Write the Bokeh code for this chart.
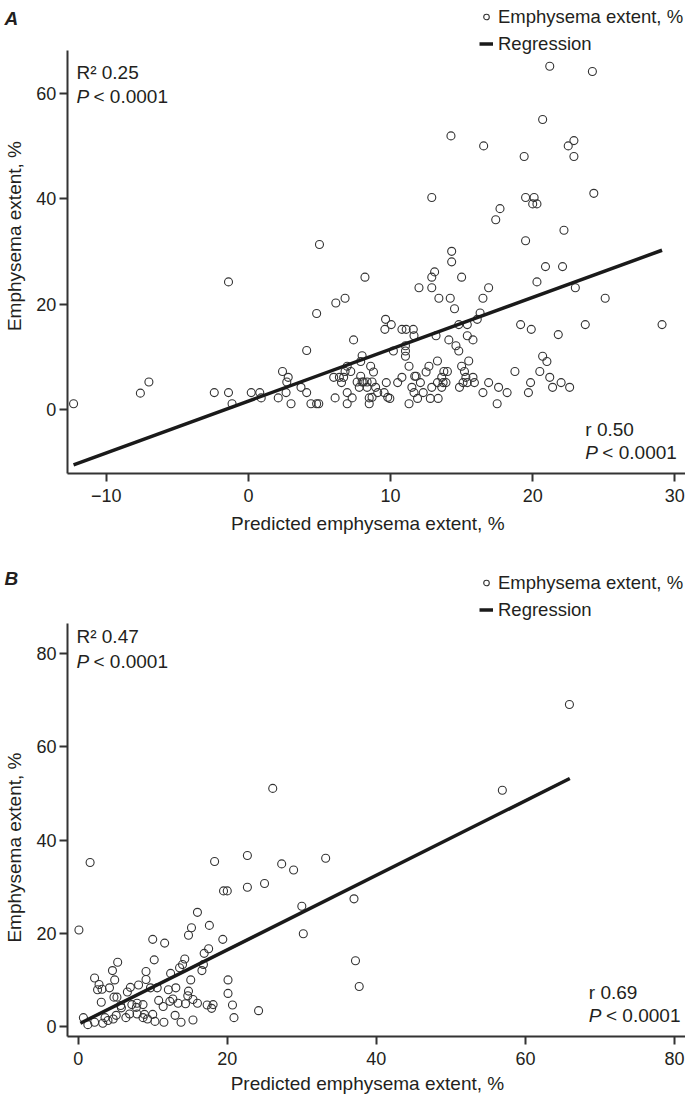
from math import pi
from bokeh.plotting import figure
from bokeh.layouts import column
from bokeh.models import Label, Legend, LegendItem, FixedTicker, Range1d
from bokeh.embed import file_html
from bokeh.resources import INLINE

FONT = "Liberation Sans"
INK = "#231f20"

# ---------------- Panel A data ----------------
a_predicted = [21.2, 24.2, 20.7, 14.25, 16.55, 22.9, 22.5, 22.9, 19.4, 12.9, 19.5, 20.1, 20.0, 20.3,
               24.3, 17.7, 17.4, 22.2, 19.5, 14.3, 14.3, 13.1, 12.9, 8.2, 15.0, 20.9, 22.1, 20.3,
               23.0, 12.0, 12.9, 16.9, 13.4, 14.2, 16.5, 25.1, -1.4, 5.0, 6.15, 6.8, 4.8, 7.4,
               4.1, 8.0, 2.4, 2.8, 2.7, 3.7, 4.1, 2.65, 2.1, 3.0, 4.4, 4.8, 4.95, -12.3, -7.6,
               -7.0, -2.4, -1.4, -1.15, 0.2, 0.8, 0.9, 6.1, 6.95, 6.95, 7.3, 6.0, 6.4, 6.7, 6.55,
               6.8, 6.95, 7.2, 7.9, 7.65, 8.0, 8.35, 7.8, 8.35, 8.5, 8.5, 8.6, 8.8, 9.65, 9.6,
               8.1, 8.7, 8.95, 9.1, 9.55, 8.7, 9.8, 7.9, 14.5, 16.3, 10.05, 10.8, 11.1, 11.6,
               11.65, 13.2, 14.8, 15.4, 16.1, 14.1, 15.4, 15.8, 14.6, 14.8, 11.05, 11.05, 11.05,
               10.2, 19.15, 19.9, 21.8, 20.7, 21.0, 13.3, 11.3, 12.7, 12.5, 15.5, 15.0, 10.8,
               11.7, 11.8, 10.5, 11.5, 12.1, 11.65, 12.3, 11.9, 9.95, 11.3, 12.8, 13.35, 12.9,
               13.3, 13.7, 13.6, 13.75, 14.0, 13.9, 13.6, 14.85, 15.1, 15.4, 15.9, 15.3, 15.8,
               15.2, 16.9, 16.5, 17.6, 18.2, 17.5, 18.75, 19.85, 19.7, 20.5, 21.2, 21.4, 22.0,
               23.7, 29.1, 22.6, 9.7]
a_extent = [65.1, 64.1, 55.0, 51.9, 50.0, 51.0, 50.0, 48.0, 48.0, 40.2, 40.2, 40.2, 39.0, 39.0,
            41.0, 38.1, 36.0, 34.0, 32.0, 30.0, 28.0, 26.1, 25.1, 25.1, 25.1, 27.1, 27.1, 24.2,
            23.1, 23.1, 23.1, 23.1, 21.1, 21.1, 21.1, 21.1, 24.2, 31.3, 20.2, 21.1, 18.2, 13.2,
            11.2, 10.2, 7.2, 6.1, 5.2, 4.2, 3.2, 3.2, 2.2, 1.1, 1.1, 1.1, 1.1, 1.1, 3.1,
            5.2, 3.2, 3.2, 1.1, 3.2, 3.2, 2.2, 2.2, 1.1, 3.2, 2.2, 6.1, 6.1, 6.1, 5.1,
            7.2, 8.2, 7.2, 9.1, 5.2, 5.2, 5.2, 4.2, 4.2, 2.2, 1.1, 8.2, 7.1, 17.1, 15.2,
            5.2, 5.2, 4.2, 3.2, 3.2, 2.3, 2.3, 6.3, 19.1, 18.3, 16.1, 15.2, 15.2, 15.2,
            14.0, 14.0, 16.1, 16.1, 17.1, 13.2, 14.0, 13.2, 12.1, 11.1, 12.1, 11.1, 10.1,
            11.1, 16.1, 15.2, 14.2, 10.1, 9.1, 9.2, 8.2, 8.2, 7.1, 9.2, 8.2, 6.1,
            6.3, 6.3, 5.1, 4.2, 5.1, 3.2, 3.2, 2.1, 2.1, 1.1, 2.1, 2.1, 4.2,
            5.1, 5.1, 6.1, 7.2, 7.2, 5.1, 4.2, 4.2, 5.1, 5.1, 5.1, 6.1, 6.1,
            7.2, 5.1, 3.2, 4.2, 3.2, 1.1, 7.2, 5.1, 3.2, 7.2, 6.1, 4.2, 5.1,
            16.1, 16.1, 4.2, 5.1]

# ---------------- Panel B data ----------------
b_predicted = [65.9, 56.9, 26.1, 22.7, 27.3, 28.9, 33.2, 22.7, 25.0, 30.0, 37.0, 30.2, 37.2, 37.7,
               24.2, 1.6, 18.3, 19.5, 20.0, 0.1, 16.0, 15.2, 14.8, 17.6, 19.4, 10.0, 11.6, 10.2,
               5.3, 4.6, 9.1, 9.1, 4.9, 2.2, 2.8, 2.6, 3.2, 4.2, 3.1, 4.8, 5.2, 6.6, 7.0, 8.1,
               9.7, 10.6, 12.4, 13.6, 14.0, 14.3, 16.9, 17.5, 16.8, 16.6, 15.1, 12.1, 13.1, 14.8,
               14.7, 15.4, 16.0, 20.1, 20.1, 20.7, 20.9, 17.3, 17.9, 18.1, 14.4, 13.4, 12.7, 12.3,
               11.4, 10.8, 7.9, 8.7, 7.8, 7.2, 5.8, 6.9, 7.9, 8.9, 10.0, 5.1, 6.4, 8.7, 9.3,
               10.3, 11.5, 13.0, 13.8, 15.4, 0.7, 1.3, 2.2, 3.3, 4.0, 3.6, 4.7, 5.7]
b_extent = [69.1, 50.7, 51.1, 36.7, 34.9, 33.6, 36.1, 29.9, 30.7, 25.8, 27.4, 19.9, 14.1, 8.6,
            3.4, 35.2, 35.4, 29.1, 29.1, 20.7, 24.5, 21.2, 19.6, 21.7, 18.7, 18.7, 17.9, 14.3,
            13.8, 12.0, 11.8, 10.1, 10.0, 10.4, 9.0, 7.9, 8.0, 8.3, 5.2, 6.3, 6.3, 7.4, 8.4, 8.9,
            8.3, 8.3, 11.4, 12.6, 13.3, 14.5, 15.7, 16.7, 13.3, 12.0, 10.0, 7.9, 8.3, 7.6,
            6.6, 5.8, 5.0, 10.0, 7.1, 4.6, 1.9, 4.6, 3.9, 4.7, 4.9, 5.0, 5.9, 5.4,
            4.3, 5.6, 5.0, 4.7, 4.1, 4.7, 4.0, 2.7, 2.7, 2.6, 2.6, 2.4, 1.9, 1.9, 1.6,
            1.1, 0.9, 2.4, 0.9, 1.4, 1.9, 0.4, 0.9, 0.7, 1.3, 1.9, 1.6, 4.5]

a_xticks = [-10, 0, 10, 20, 30]
a_yticks = [0, 20, 40, 60]
b_xticks = [0, 20, 40, 60, 80]
b_yticks = [0, 20, 40, 60, 80]

# regression fits: intercept, slope, x extent of the fitted line
a_fit = {"intercept": 1.6, "slope": 0.983, "x": [-12.3, 29.1]}
b_fit = {"intercept": 0.46, "slope": 0.80, "x": [0.3, 65.95]}

a_text = {"letter": "A", "r2": "R\u00b2 0.25", "r": "r 0.50", "p": "<  0.0001"}
b_text = {"letter": "B", "r2": "R\u00b2 0.47", "r": "r 0.69", "p": "<  0.0001"}

series_label = "Emphysema extent, %"
fit_label = "Regression"
x_title = "Predicted emphysema extent, %"
y_title = "Emphysema extent, %"


def lab(p, x, y, text, size="19px", style="normal", align="left", baseline="middle", angle=0.0):
    p.add_layout(Label(x=x, y=y, text=text, text_font=FONT, text_font_size=size,
                       text_font_style=style, text_color=INK, text_align=align,
                       text_baseline=baseline, angle=angle))


def panel(xs, ys, fit, txt, view_x, view_y, axis_x, axis_y, xticks, yticks, pos, legend_loc):
    # the frame fills the whole canvas; axes sit at fixed data locations inside it
    p = figure(width=685, height=548, output_backend="svg", toolbar_location=None,
               x_range=Range1d(*view_x), y_range=Range1d(*view_y),
               min_border_left=0, min_border_right=0, min_border_top=0, min_border_bottom=0)
    p.grid.visible = False
    p.outline_line_color = None
    p.background_fill_color = "white"
    p.border_fill_color = "white"
    for ax, ticks in ((p.xaxis[0], xticks), (p.yaxis[0], yticks)):
        ax.ticker = FixedTicker(ticks=ticks)
        ax.minor_tick_line_color = None
        ax.major_tick_in = 0
        ax.major_tick_out = 8
        ax.axis_line_width = 2
        ax.major_tick_line_width = 2
        ax.axis_line_color = "#333333"
        ax.major_tick_line_color = "#333333"
        ax.major_label_text_font = FONT
        ax.major_label_text_font_size = "18px"
        ax.major_label_text_color = INK
        ax.major_label_overrides = {t: ("\u2212" + str(-t) if t < 0 else str(t)) for t in ticks}
    p.xaxis.fixed_location = axis_y[0]
    p.xaxis.bounds = (axis_x[0], axis_x[1])
    p.yaxis.fixed_location = axis_x[0]
    p.yaxis.bounds = (axis_y[0], axis_y[1])
    p.xaxis.major_label_standoff = 8
    p.yaxis.major_label_standoff = 3

    pts = p.scatter(xs, ys, marker="circle", size=8, fill_color=None,
                    line_color="#333333", line_width=1.1)
    fx = fit["x"]
    fy = [fit["intercept"] + fit["slope"] * v for v in fx]
    ln = p.line(fx, fy, line_color="#1a1a1a", line_width=3.5)

    legend = Legend(items=[LegendItem(label=series_label, renderers=[pts]),
                           LegendItem(label=fit_label, renderers=[ln])],
                    location=legend_loc, orientation="vertical",
                    border_line_color=None, background_fill_alpha=0,
                    label_text_font=FONT, label_text_font_size="18.5px", label_text_color=INK,
                    glyph_width=14, glyph_height=21, label_height=21, spacing=5,
                    label_standoff=5, padding=0, margin=0)
    p.add_layout(legend, "center")

    lab(p, pos["letter"][0], pos["letter"][1], txt["letter"], size="19px", style="bold italic")
    lab(p, pos["r2"][0], pos["r2"][1], txt["r2"])
    lab(p, pos["p1"][0], pos["p1"][1], "P", style="italic")
    lab(p, pos["p1lt"], pos["p1"][1], txt["p"])
    lab(p, pos["r"][0], pos["r"][1], txt["r"])
    lab(p, pos["p2"][0], pos["p2"][1], "P", style="italic")
    lab(p, pos["p2lt"], pos["p2"][1], txt["p"])
    lab(p, pos["ytitle"][0], pos["ytitle"][1], y_title, align="center", angle=pi / 2)
    lab(p, pos["xtitle"][0], pos["xtitle"][1], x_title, align="center")
    return p


a_pos = {"letter": (-17.15, 74.17), "r2": (-12.1, 63.85), "p1": (-12.1, 59.45), "p1lt": -10.9,
         "r": (23.7, -3.85), "p2": (23.7, -8.1), "p2lt": 24.9,
         "ytitle": (-16.45, 32.9), "xtitle": (8.4, -21.62)}
b_pos = {"letter": (-9.89, 96.14), "r2": (-0.23, 83.6), "p1": (-0.23, 78.4), "p1lt": 2.05,
         "r": (68.5, 7.3), "p2": (68.5, 2.36), "p2lt": 70.8,
         "ytitle": (-8.55, 38.4), "xtitle": (38.8, -12.23)}

pa = panel(a_predicted, a_extent, a_fit, a_text,
           (-17.44, 30.75), (-26.37, 77.58),      # visible window (whole canvas)
           (-12.75, 30.75), (-12.14, 68.1),       # axis extents
           a_xticks, a_yticks, a_pos, (479, 493.5))
pb = panel(b_predicted, b_extent, b_fit, b_text,
           (-10.42, 81.47), (-15.02, 102.58),
           (-1.44, 81.47), (-2.08, 86.5),
           b_xticks, b_yticks, b_pos, (479, 475.5))

layout = column(pa, pb, spacing=0)
open("out.html", "w").write(file_html(layout, INLINE))
